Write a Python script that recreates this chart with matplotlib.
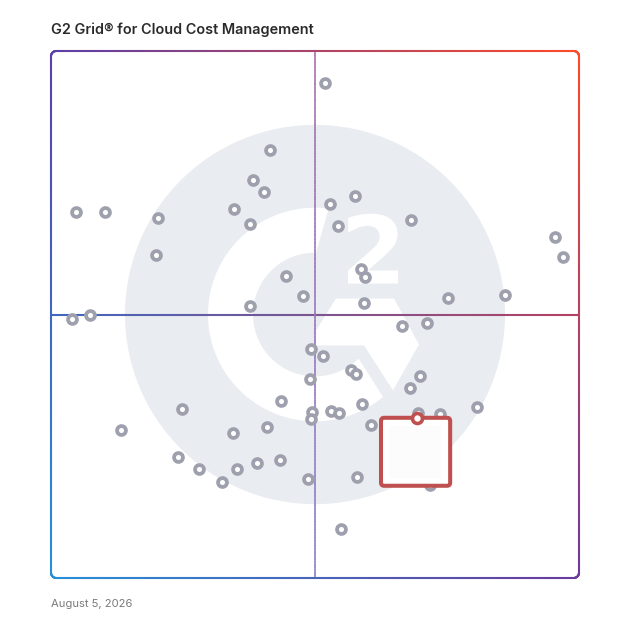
import numpy as np
import matplotlib
matplotlib.use("Agg")
import matplotlib.pyplot as plt
import matplotlib.colors as mcolors
from matplotlib.collections import LineCollection
from matplotlib.patches import Circle, Polygon, FancyBboxPatch, PathPatch
from matplotlib.textpath import TextPath
from matplotlib.font_manager import FontProperties
from matplotlib.transforms import Affine2D

## chart text
title = "G2 Grid\u00ae for Cloud Cost Management"
date_label = "August 5, 2026"

## products: satisfaction (x) and market presence (y), 0-100
satisfaction = [41.5, 38.3, 40.4, 34.7, 37.6, 20.3, 19.9, 52.8, 57.6, 54.3,
                68.2, 58.8, 59.5, 44.5, 47.8, 37.6, 59.3, 75.2, 86.0, 66.5,
                71.2, 49.2, 51.5, 56.8, 57.7, 49.1, 69.9, 67.9, 43.6, 58.9,
                49.4, 49.2, 53.1, 54.5, 80.7, 24.8, 13.3, 34.5, 40.9, 60.7,
                69.6, 73.7, 24.0, 28.1, 32.4, 35.2, 39.1, 43.3, 48.6, 58.0,
                71.8, 51.9, 4.7, 10.3, 95.5, 96.9, 4.0, 7.3, 55.0]
market_presence = [81.3, 75.5, 73.3, 70.0, 67.1, 68.4, 61.2, 70.9, 72.5, 66.7,
                   68.0, 58.6, 57.2, 57.3, 53.6, 51.7, 52.2, 53.2, 53.7, 47.9,
                   48.3, 43.4, 42.2, 39.5, 38.8, 37.7, 38.4, 36.0, 33.5, 33.1,
                   31.5, 30.2, 31.7, 31.4, 32.5, 32.1, 28.1, 27.6, 28.7, 29.0,
                   31.4, 31.1, 23.0, 20.7, 18.2, 20.7, 21.9, 22.4, 18.8, 19.2,
                   17.6, 93.9, 69.4, 69.4, 64.7, 60.9, 49.1, 49.9, 9.3]

## highlighted product
highlight_x = 69.3
highlight_y = 30.4

## quadrant split
mid = 50

## border gradient corner colours
TL = np.array(mcolors.to_rgb("#5B3FA8"))
TR = np.array(mcolors.to_rgb("#FF4A28"))
BL = np.array(mcolors.to_rgb("#2690D8"))
BR = np.array(mcolors.to_rgb("#6A3A9E"))


def grad(x, y):
    u = x / 100.0
    v = 1 - y / 100.0
    c = (1 - u) * (1 - v) * TL + u * (1 - v) * TR + (1 - u) * v * BL + u * v * BR
    return np.clip(c, 0, 1)


def gradient_line(ax, pts, colors_fn, lw, z, alpha=1.0):
    pts = np.asarray(pts)
    segs = np.stack([pts[:-1], pts[1:]], axis=1)
    mids = (pts[:-1] + pts[1:]) / 2
    cols = [colors_fn(px, py) for px, py in mids]
    lc = LineCollection(segs, colors=cols, linewidths=lw, capstyle="round",
                        zorder=z, alpha=alpha, clip_on=False)
    ax.add_collection(lc)


def rounded_rect(x0, y0, x1, y1, r):
    pts = []
    corners = [(x1 - r, y1 - r, 0, 90), (x0 + r, y1 - r, 90, 180),
               (x0 + r, y0 + r, 180, 270), (x1 - r, y0 + r, 270, 360)]
    for cx, cy, a0, a1 in corners:
        t = np.radians(np.linspace(a0, a1, 12))
        pts += list(zip(cx + r * np.cos(t), cy + r * np.sin(t)))
    pts.append(pts[0])
    # densify straight edges
    out = []
    for i in range(len(pts) - 1):
        p, q = np.array(pts[i]), np.array(pts[i + 1])
        k = max(2, int(np.hypot(*(q - p)) * 2))
        for s in np.linspace(0, 1, k, endpoint=False):
            out.append(p + (q - p) * s)
    out.append(np.array(pts[-1]))
    return np.array(out)


fig = plt.figure(figsize=(6.28, 6.28), dpi=100)
ax = fig.add_axes([51 / 628, 50 / 628, 528 / 628, 527 / 628])
ax.set_xlim(0, 100)
ax.set_ylim(0, 100)
ax.axis("off")

## G2 watermark logo
s = 1 / 5.28  # logo is laid out in pixel offsets from its centre


def lp(dx, dy):
    return (mid + dx * s, mid - dy * s)


wm = "#E9ECF0"
ax.add_patch(Circle((mid, mid), 190 * s, color=wm, zorder=0.5, lw=0))

r_out, r_in = 107, 62
a_out = np.radians(np.linspace(82.6, 309.5, 120))
a_in = np.radians(np.linspace(314.7, 89, 120))
ring = [lp(r_out * np.cos(a), -r_out * np.sin(a)) for a in a_out]
ring += [lp(r_in * np.cos(a), -r_in * np.sin(a)) for a in a_in]
ax.add_patch(Polygon(ring, closed=True, color="white", lw=0, zorder=0.6))

chev = [lp(21, -16), lp(79, -16), lp(104, 30), lp(78, 76), lp(49, 31), lp(1, 31), lp(1, 16)]
ax.add_patch(Polygon(chev, closed=True, color="white", lw=0, zorder=0.6))

tp = TextPath((0, 0), "2", prop=FontProperties(family="DejaVu Sans", weight="bold"))
ext = tp.get_extents()
x0, y0 = lp(33, -31)
x1, y1 = lp(83, -101)
tr = (Affine2D().translate(-ext.x0, -ext.y0)
      .scale((x1 - x0) / ext.width, (y1 - y0) / ext.height)
      .translate(x0, y0))
ax.add_patch(PathPatch(tr.transform_path(tp), color="white", lw=0, zorder=0.6))

## quadrant lines
h_pts = np.column_stack([np.linspace(0, 100, 200), np.full(200, mid)])
gradient_line(ax, h_pts, grad, 1.5, 1)

v_top = np.array(mcolors.to_rgb("#A870AC"))
v_bot = np.array(mcolors.to_rgb("#8C80CC"))
v_pts = np.column_stack([np.full(200, mid), np.linspace(0, 100, 200)])
gradient_line(ax, v_pts, lambda px, py: v_bot + (v_top - v_bot) * py / 100, 1.1, 1)

## products
ax.plot(satisfaction, market_presence, "o", ms=6.4, mfc="white", mec="#9EA1AD",
        mew=2.7, ls="none", zorder=3)

## highlight card
card_red = "#C0504F"
card = FancyBboxPatch((highlight_x - 6.8, highlight_y - 12.9), 13.1, 12.9,
                      boxstyle="round,pad=0,rounding_size=0.6",
                      fc="white", ec=card_red, lw=2.9, zorder=4)
ax.add_patch(card)
inner = FancyBboxPatch((highlight_x - 5.3, highlight_y - 11.4), 9.9, 9.8,
                       boxstyle="square,pad=0", fc="#FCFCFC", ec="none", zorder=4.1)
ax.add_patch(inner)
ax.plot([highlight_x], [highlight_y], "o", ms=7.2, mfc="white", mec=card_red,
        mew=2.6, zorder=5)

## frame
frame = rounded_rect(0, 0, 100, 100, 1.0)
gradient_line(ax, frame, grad, 1.5, 6)

## texts
fig.text(51 / 628, 1 - 29.5 / 628, title, ha="left", va="center", fontsize=10.4,
         fontweight="semibold", color="#2A2A2A", family=["Inter", "DejaVu Sans"])
fig.text(51 / 628, 1 - 604 / 628, date_label, ha="left", va="center", fontsize=8.1,
         color="#7A7A7A", family=["Inter", "DejaVu Sans"])

fig.savefig("out.png", dpi=100)
